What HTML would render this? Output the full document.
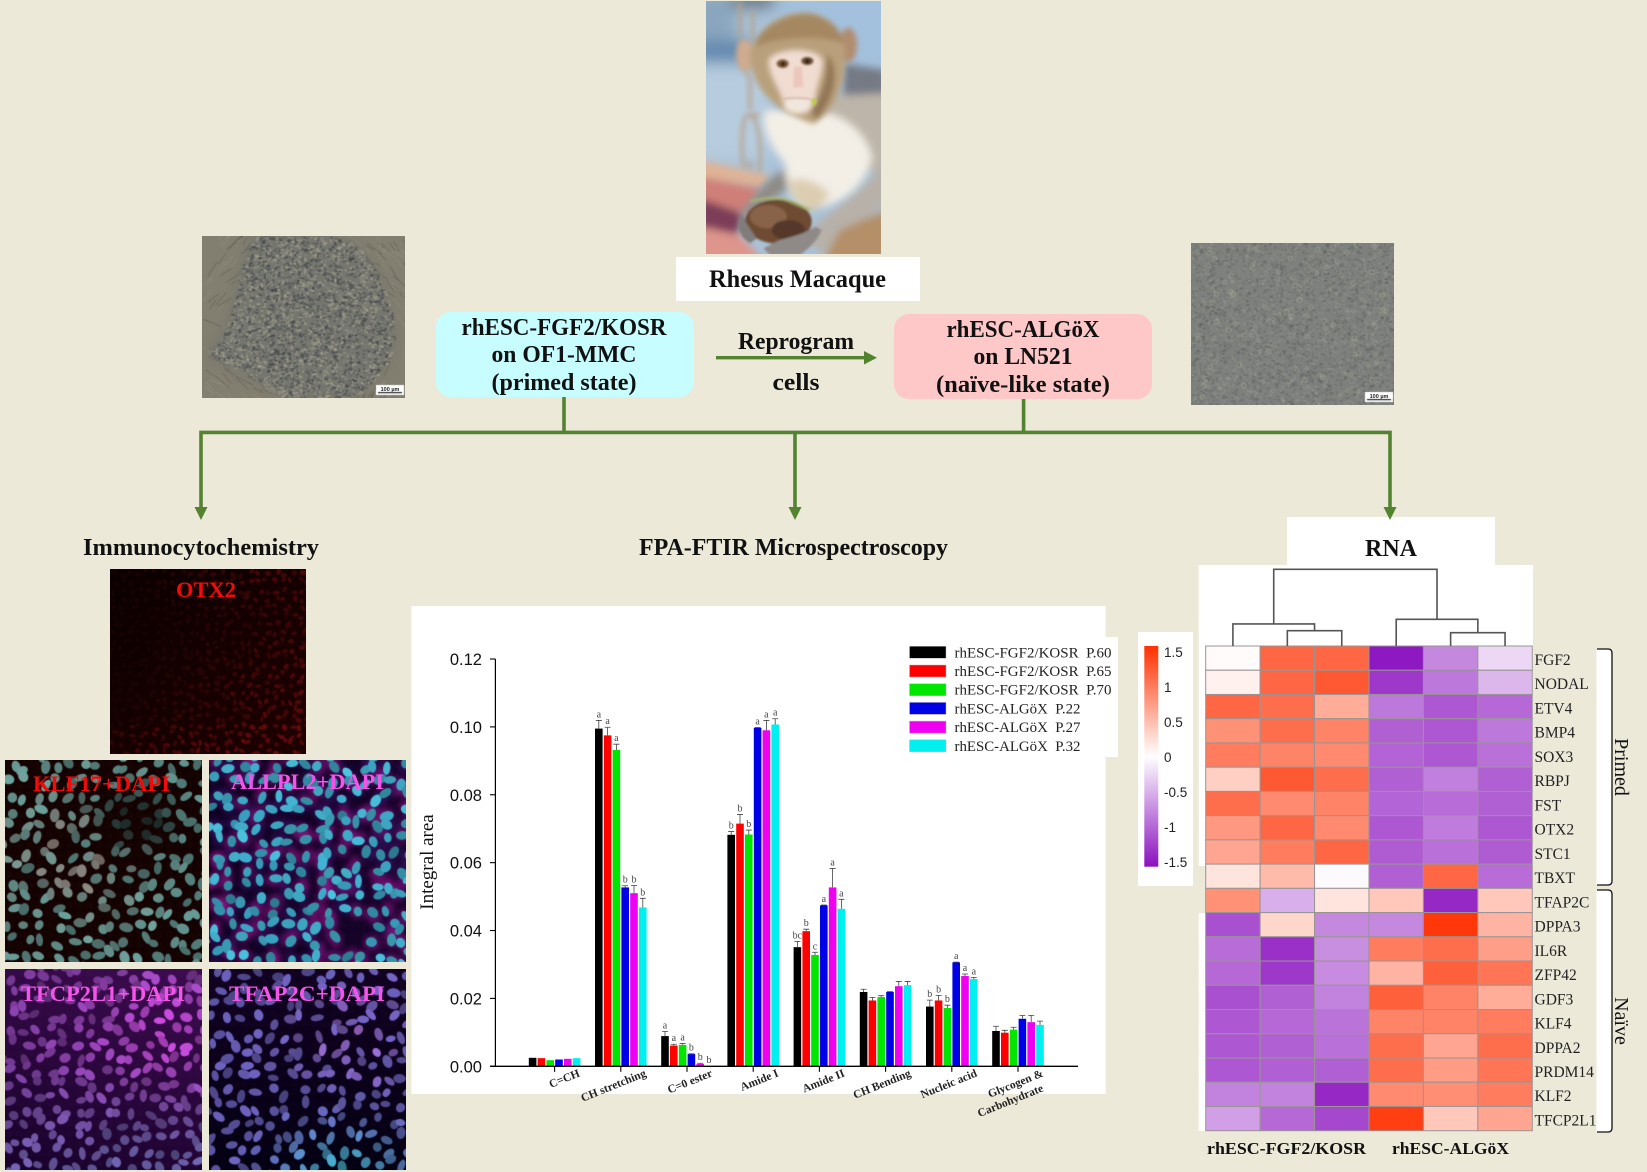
<!DOCTYPE html>
<html lang="en">
<head>
<meta charset="utf-8">
<title>Rhesus macaque ESC reprogramming overview</title>
<style>
html,body{margin:0;padding:0;background:#ece9d9;}
#stage{position:relative;width:1647px;height:1172px;overflow:hidden;background:#ece9d9;}
#stage canvas{position:absolute;display:block;}
#main{position:absolute;left:0;top:0;}
.serif{font-family:"Liberation Serif",serif;}
.sans{font-family:"Liberation Sans",sans-serif;}
</style>
</head>
<body>
<div id="stage">
<canvas id="c-left" width="203" height="162" style="left:202px;top:236px"></canvas>
<canvas id="c-right" width="203" height="162" style="left:1191px;top:243px"></canvas>
<canvas id="c-otx2" width="196" height="185" style="left:110px;top:569px"></canvas>
<canvas id="c-klf17" width="197" height="202" style="left:5px;top:760px"></canvas>
<canvas id="c-allpl2" width="197" height="202" style="left:209px;top:760px"></canvas>
<canvas id="c-tfcp" width="197" height="201" style="left:5px;top:969px"></canvas>
<canvas id="c-tfap" width="197" height="201" style="left:209px;top:969px"></canvas>

<svg id="main" width="1647" height="1172" viewBox="0 0 1647 1172" xmlns="http://www.w3.org/2000/svg">
  <defs>
    <filter id="z2" x="-20%" y="-20%" width="140%" height="140%"><feGaussianBlur stdDeviation="3"/></filter>
    <filter id="z5" x="-30%" y="-30%" width="160%" height="160%"><feGaussianBlur stdDeviation="8"/></filter>
    <filter id="z12" x="-40%" y="-40%" width="180%" height="180%"><feGaussianBlur stdDeviation="12"/></filter>
    <filter id="z24" x="-40%" y="-40%" width="180%" height="180%"><feGaussianBlur stdDeviation="24"/></filter>
    <clipPath id="photo-clip"><rect x="18" y="3" width="525" height="759"/></clipPath>
    <linearGradient id="cbar-grad" x1="0" y1="0" x2="0" y2="1">
      <stop offset="0" stop-color="#ff3000"/>
      <stop offset="0.5" stop-color="#ffffff"/>
      <stop offset="1" stop-color="#8a10bf"/>
    </linearGradient>
  </defs>

  <!-- Rhesus macaque photo, painted in 3x coordinates -->
  <g transform="translate(700 0) scale(0.33333)">
    <g clip-path="url(#photo-clip)">
      <rect x="18" y="3" width="525" height="759" fill="#a9c2d8"/>
      <g filter="url(#z24)">
        <rect x="240" y="-30" width="340" height="230" fill="#a3c1dd"/>
        <rect x="-20" y="-20" width="130" height="150" fill="#8aa6be"/>
        <rect x="-20" y="125" width="180" height="60" fill="#5c84ac"/>
        <rect x="-20" y="200" width="230" height="280" fill="#b7ccde"/>
        <rect x="95" y="-20" width="130" height="40" fill="#5c6670"/>
      </g>
      <g filter="url(#z12)">
        <path d="M0 480 L210 525 L190 560 L0 530Z" fill="#e0b394"/>
        <path d="M0 530 L185 565 L140 640 L0 600Z" fill="#cf7f78"/>
        <path d="M0 595 L130 640 L110 710 L0 680Z" fill="#7d3c58"/>
        <path d="M0 680 L120 705 L190 780 L0 780Z" fill="#dd958c"/>
      </g>
      <g stroke="#b7a28c" fill="none" stroke-width="10" filter="url(#z5)">
        <path d="M120 5 V110 M158 30 V120"/>
        <path d="M122 120 Q125 200 150 235 V330"/>
        <path d="M135 350 Q118 430 132 505 M150 340 Q190 380 178 515 M135 345 H180"/>
        <path d="M150 480 V510"/>
      </g>
      <!-- body -->
      <g filter="url(#z12)">
        <path d="M430 190 L560 210 L560 300 L430 300Z" fill="#747a85"/>
        <path d="M360 290 L560 280 L560 520 L430 500Z" fill="#bdb5a9"/>
        <path d="M280 500 C240 510 200 540 170 580 L115 650 L170 640 L230 590 L275 560Z" fill="#8e8b86"/>
        <path d="M195 330 C180 380 215 450 255 490 C258 560 270 610 320 630 C400 625 500 570 515 470 C500 400 430 340 350 335 Z" fill="#f3efe7"/>
        <path d="M268 540 C272 590 290 615 330 635 C360 625 380 600 390 580 C350 545 310 530 268 540Z" fill="#dccdb0"/>
        <path d="M560 480 C510 550 430 610 350 670 L320 730 L370 760 C430 720 500 650 560 610Z" fill="#b7b1a9"/>
        <path d="M420 690 L560 630 L560 780 L370 780Z" fill="#b48f68"/>
      </g>
      <!-- head -->
      <g filter="url(#z5)">
        <ellipse cx="135" cy="165" rx="26" ry="48" fill="#d0ac8f"/>
        <ellipse cx="445" cy="135" rx="26" ry="52" fill="#b18c6e"/>
        <path d="M150 160 C170 80 250 30 330 38 C410 55 440 110 435 180 C435 270 395 340 340 372 C280 350 215 320 175 255 C160 225 150 200 150 160Z" fill="#b9a07c"/>
        <path d="M170 120 C200 70 270 40 330 42 C390 55 425 90 430 130 C360 105 240 110 170 140Z" fill="#a58862"/>
        <path d="M380 160 C420 200 410 290 350 360 L330 330 C360 300 385 240 380 160Z" fill="#927655"/>
      </g>
      <g filter="url(#z5)">
        <path d="M205 180 C220 145 350 135 368 180 C370 220 350 250 345 300 C335 345 265 350 250 310 C240 265 205 230 205 180Z" fill="#f1dcd2"/>
        <ellipse cx="293" cy="318" rx="42" ry="24" fill="#f2e7de"/>
      </g>
      <g filter="url(#z2)">
        <path d="M282 200 L305 200 L310 262 L280 262Z" fill="#ecc7bc"/>
        <ellipse cx="248" cy="191" rx="18" ry="13" fill="#7a5a38"/>
        <ellipse cx="322" cy="183" rx="18" ry="12" fill="#6b5032"/>
        <circle cx="249" cy="192" r="7" fill="#2a1a10"/>
        <circle cx="322" cy="184" r="7" fill="#2a1a10"/>
        <path d="M250 297 Q295 290 335 298" stroke="#bd9c90" stroke-width="3" fill="none"/>
        <ellipse cx="342" cy="305" rx="7" ry="10" fill="#b6d33f"/>
      </g>
      <!-- soil ball and hands -->
      <g filter="url(#z2)">
        <ellipse cx="235" cy="665" rx="100" ry="66" fill="#6e4b30"/>
        <ellipse cx="205" cy="650" rx="55" ry="35" fill="#89644a"/>
        <ellipse cx="265" cy="690" rx="50" ry="30" fill="#55392a"/>
        <path d="M150 605 Q215 585 260 600 L330 630" stroke="#a8b76c" stroke-width="9" stroke-opacity="0.75" fill="none"/>
        <path d="M125 640 C105 670 115 710 150 730 L170 715 L140 670Z" fill="#807c7c"/>
        <path d="M345 680 C310 705 265 712 235 722 L190 745 L210 765 L300 765 C335 740 355 715 365 690Z" fill="#8f8a88"/>
      </g>
    </g>
  </g>

  <!-- White labels and boxes -->
  <g>
    <rect x="676" y="257" width="244" height="44" fill="#ffffff"/>
    <text x="709" y="287" class="serif" font-size="25" font-weight="bold" fill="#111" textLength="177" lengthAdjust="spacingAndGlyphs">Rhesus Macaque</text>
  </g>

  <g>
    <rect x="436" y="312" width="258" height="85" rx="15" fill="#c7fdff"/>
    <text x="564" y="335" text-anchor="middle" class="serif" font-size="24" font-weight="bold" fill="#111" textLength="205" lengthAdjust="spacingAndGlyphs">rhESC-FGF2/KOSR</text>
    <text x="564" y="362" text-anchor="middle" class="serif" font-size="24" font-weight="bold" fill="#111" textLength="145" lengthAdjust="spacingAndGlyphs">on OF1-MMC</text>
    <text x="564" y="390" text-anchor="middle" class="serif" font-size="24" font-weight="bold" fill="#111" textLength="145" lengthAdjust="spacingAndGlyphs">(primed state)</text>
  </g>
  <g>
    <rect x="894" y="314" width="258" height="85" rx="15" fill="#fec8c8"/>
    <text x="1023" y="337" text-anchor="middle" class="serif" font-size="24" font-weight="bold" fill="#111" textLength="153" lengthAdjust="spacingAndGlyphs">rhESC-ALGöX</text>
    <text x="1023" y="364" text-anchor="middle" class="serif" font-size="24" font-weight="bold" fill="#111" textLength="99" lengthAdjust="spacingAndGlyphs">on LN521</text>
    <text x="1023" y="392" text-anchor="middle" class="serif" font-size="24" font-weight="bold" fill="#111" textLength="174" lengthAdjust="spacingAndGlyphs">(naïve-like state)</text>
  </g>

  <!-- Flow lines -->
  <g>
    <rect x="716" y="356" width="150" height="3.4" fill="#53832f"/>
    <path d="M864 351 L877 357.7 L864 364.5Z" fill="#53832f"/>
    <text x="796" y="349" text-anchor="middle" class="serif" font-size="24" font-weight="bold" fill="#111" textLength="116" lengthAdjust="spacingAndGlyphs">Reprogram</text>
    <text x="796" y="390" text-anchor="middle" class="serif" font-size="24" font-weight="bold" fill="#111" textLength="47" lengthAdjust="spacingAndGlyphs">cells</text>
  </g>

  <rect x="1287" y="517" width="208" height="50" fill="#ffffff"/>
  <rect x="1198.7" y="565" width="334.3" height="301" fill="#ffffff"/>
  <rect x="1198.7" y="913" width="10" height="218" fill="#ffffff"/>

  <g fill="none" stroke="#53832f" stroke-width="3.6">
    <path d="M564 397 V432.4"/>
    <path d="M1023.6 399 V432.4"/>
    <path d="M201 510 V432.4 H1390 V510"/>
    <path d="M795 432.4 V510"/>
  </g>
  <g fill="#53832f">
    <path d="M194.500 507 H207.500 L201 520Z"/>
    <path d="M788.500 507 H801.500 L795 520Z"/>
    <path d="M1383.500 507 H1396.500 L1390 520Z"/>
  </g>

  <!-- Section titles -->
  <text x="83" y="555" class="serif" font-size="24" font-weight="bold" fill="#111" textLength="236" lengthAdjust="spacingAndGlyphs">Immunocytochemistry</text>
  <text x="639" y="555" class="serif" font-size="24" font-weight="bold" fill="#111" textLength="309" lengthAdjust="spacingAndGlyphs">FPA-FTIR Microspectroscopy</text>
  <text x="1391" y="556" text-anchor="middle" class="serif" font-size="24" font-weight="bold" fill="#111">RNA</text>

  <!-- Stain panel labels -->
  <text x="206" y="597" text-anchor="middle" class="serif" font-size="22" font-weight="bold" fill="#f40a0a" textLength="60" lengthAdjust="spacingAndGlyphs">OTX2</text>
  <text x="33" y="791" class="serif" font-size="22" font-weight="bold" fill="#f40a0a" textLength="137" lengthAdjust="spacingAndGlyphs">KLF17+DAPI</text>
  <text x="231" y="789" class="serif" font-size="22" font-weight="bold" fill="#f455e8" textLength="153" lengthAdjust="spacingAndGlyphs">ALLPL2+DAPI</text>
  <text x="21" y="1001" class="serif" font-size="22" font-weight="bold" fill="#f455e8" textLength="164" lengthAdjust="spacingAndGlyphs">TFCP2L1+DAPI</text>
  <text x="229" y="1001" class="serif" font-size="22" font-weight="bold" fill="#f455e8" textLength="156" lengthAdjust="spacingAndGlyphs">TFAP2C+DAPI</text>

  <text x="390" y="391" text-anchor="middle" class="sans" font-size="5.5" font-weight="bold" fill="#222">100 µm</text>
  <text x="1379" y="398" text-anchor="middle" class="sans" font-size="5.5" font-weight="bold" fill="#222">100 µm</text>

  <!-- Chart -->
  <g id="chart">
    <rect x="411.400" y="606" width="694.200" height="488" fill="#ffffff"/>
    <rect x="905" y="637" width="213" height="120" fill="#ffffff"/>
  </g>

  <!-- Heatmap -->
  <g id="heat"></g>
</svg>
</div>

<script>
/* ---------- Bar chart data ---------- */
const categories = ["C=CH", "CH stretching", "C=0 ester", "Amide I", "Amide II", "CH Bending", "Nucleic acid", "Glycogen &|Carbohydrate"];
const seriesNames = ["rhESC-FGF2/KOSR\u00a0\u00a0P.60", "rhESC-FGF2/KOSR\u00a0\u00a0P.65", "rhESC-FGF2/KOSR\u00a0\u00a0P.70", "rhESC-ALGöX\u00a0\u00a0P.22", "rhESC-ALGöX\u00a0\u00a0P.27", "rhESC-ALGöX\u00a0\u00a0P.32"];
const seriesColors = ["#000000", "#ff0000", "#00e600", "#0000e6", "#f000f0", "#00f0f0"];
const valuesP60 = [0.0025, 0.0995, 0.0089, 0.0682, 0.0351, 0.0219, 0.0176, 0.0104];
const valuesP65 = [0.0024, 0.0975, 0.0061, 0.0715, 0.0398, 0.0194, 0.0194, 0.0099];
const valuesP70 = [0.0018, 0.0932, 0.0063, 0.0683, 0.0328, 0.0204, 0.0172, 0.0108];
const valuesA22 = [0.0020, 0.0527, 0.0036, 0.0997, 0.0474, 0.0219, 0.0306, 0.0140];
const valuesA27 = [0.0022, 0.0510, 0.0007, 0.0990, 0.0527, 0.0236, 0.0266, 0.0130];
const valuesA32 = [0.0024, 0.0468, 0.0001, 0.1007, 0.0464, 0.0239, 0.0257, 0.0122];
const errorsP60 = [0, 0.0024, 0.0014, 0.0010, 0.0017, 0.0008, 0.0019, 0.0014];
const errorsP65 = [0, 0.0024, 0.0004, 0.0027, 0.0006, 0.0009, 0.0015, 0.0007];
const errorsP70 = [0, 0.0017, 0.0004, 0.0013, 0.0008, 0.0004, 0.0008, 0.0007];
const errorsA22 = [0, 0.0005, 0.0001, 0.0001, 0.0001, 0.0001, 0.0001, 0.0010];
const errorsA27 = [0, 0.0023, 0.0002, 0.0029, 0.0056, 0.0014, 0.0006, 0.0020];
const errorsA32 = [0, 0.0027, 0, 0.0017, 0.0028, 0.0011, 0.0005, 0.0011];
const lettersP60 = ["", "a", "a", "b", "bc", "", "b", ""];
const lettersP65 = ["", "a", "a", "b", "b", "", "b", ""];
const lettersP70 = ["", "a", "a", "b", "c", "", "b", ""];
const lettersA22 = ["", "b", "b", "a", "a", "", "a", ""];
const lettersA27 = ["", "b", "b", "a", "a", "", "a", ""];
const lettersA32 = ["", "b", "b", "a", "a", "", "a", ""];
const yTickValues = [0, 0.02, 0.04, 0.06, 0.08, 0.10, 0.12];
const seriesValues = [valuesP60, valuesP65, valuesP70, valuesA22, valuesA27, valuesA32];
const seriesErrors = [errorsP60, errorsP65, errorsP70, errorsA22, errorsA27, errorsA32];
const seriesLetters = [lettersP60, lettersP65, lettersP70, lettersA22, lettersA27, lettersA32];

/* ---------- Heatmap data ---------- */
const genes = ["FGF2","NODAL","ETV4","BMP4","SOX3","RBPJ","FST","OTX2","STC1","TBXT","TFAP2C","DPPA3","IL6R","ZFP42","GDF3","KLF4","DPPA2","PRDM14","KLF2","TFCP2L1"];
const heatValues = [
  [0.03, 1.10, 1.10, -1.45, -0.75, -0.25],
  [0.10, 1.10, 1.20, -1.25, -0.85, -0.45],
  [1.10, 1.05, 0.60, -0.85, -1.05, -0.95],
  [0.80, 1.05, 0.90, -1.00, -1.05, -0.85],
  [0.95, 0.90, 0.85, -0.98, -1.05, -0.90],
  [0.35, 1.20, 1.05, -1.00, -0.80, -1.00],
  [1.05, 0.85, 0.90, -0.97, -0.92, -1.00],
  [0.75, 1.10, 0.85, -1.05, -0.82, -1.05],
  [0.65, 0.95, 1.10, -1.02, -0.90, -1.02],
  [0.20, 0.50, -0.03, -1.00, 1.10, -0.92],
  [0.80, -0.50, 0.20, 0.40, -1.35, 0.40],
  [-1.10, 0.30, -0.75, -0.75, 1.45, 0.55],
  [-0.92, -1.30, -0.70, 0.95, 1.05, 0.70],
  [-0.95, -1.25, -0.72, 0.55, 1.15, 1.00],
  [-1.10, -1.00, -0.78, 1.15, 0.90, 0.60],
  [-1.05, -0.95, -0.88, 0.90, 0.90, 0.95],
  [-1.05, -1.00, -0.90, 1.05, 0.65, 1.05],
  [-1.05, -1.00, -1.00, 1.05, 0.72, 1.00],
  [-0.78, -0.78, -1.35, 0.85, 0.82, 0.95],
  [-0.60, -0.95, -1.15, 1.40, 0.40, 0.65]
];
const colorbarTicks = [1.5, 1, 0.5, 0, -0.5, -1, -1.5];
const dendroLeftHeights = [0.20, 0.287];
const dendroRightHeights = [0.173, 0.348];

const NS = "http://www.w3.org/2000/svg";
function mk(parent, tag, geom, txt) {
  const el = document.createElementNS(NS, tag);
  for (const k in geom) el.setAttribute(k, geom[k]);
  if (txt !== undefined) el.textContent = txt;
  parent.appendChild(el);
  return el;
}

/* ---------- Chart axes ---------- */
const chart = document.getElementById("chart");
const yZero = 1066.3, yTop = 659, yMax = 0.12;
const yOf = v => yZero - (v / yMax) * (yZero - yTop);
const groupStart = 554.6, groupStep = 66.2, barPitch = 8.8, barWidth = 7.6;
const groupX = g => groupStart + g * groupStep;
const barX = (g, s) => groupX(g) + (s - seriesValues.length / 2) * barPitch + (barPitch - barWidth) / 2;

for (let s = 0; s < seriesValues.length; s++) {
  for (let g = 0; g < categories.length; g++) {
    const v = seriesValues[s][g], e = seriesErrors[s][g], x = barX(g, s), cx = x + barWidth / 2;
    const bar = mk(chart, "rect", {x: x, y: yOf(v), width: barWidth, height: yOf(0) - yOf(v), fill: seriesColors[s]});
    
    
    if (e > 0) {
      const err = mk(chart, "path", {d: "M" + cx + " " + yOf(v) + "V" + yOf(v + e) + "M" + (cx - 3) + " " + yOf(v + e) + "H" + (cx + 3), stroke: "#444", "stroke-width": 0.8, fill: "none"});
      
      
    }
    const letter = seriesLetters[s][g];
    if (letter) {
      const t = mk(chart, "text", {x: cx, y: yOf(v + e) - 3, "text-anchor": "middle", "font-size": 10, fill: "#444", "font-family": '"Liberation Serif",serif'}, letter);
      
      
    }
  }
}

const yAxis = mk(chart, "path", {d: "M495.4 " + yOf(yMax) + "V" + yOf(0), stroke: "#000", "stroke-width": 1.2, fill: "none"});


const xAxis = mk(chart, "path", {d: "M490 " + yOf(0) + "H1078", stroke: "#000", "stroke-width": 1.4, fill: "none"});



yTickValues.forEach(v => {
  const tk = mk(chart, "path", {d: "M490 " + yOf(v) + "H495.4", stroke: "#000", "stroke-width": 1.1});
  
  
  const lb = mk(chart, "text", {x: 482, y: yOf(v) + 6, "text-anchor": "end", "font-size": 16.5, fill: "#111", "font-family": '"Liberation Sans",sans-serif'}, v.toFixed(2));
  
  
});

categories.forEach((c, g) => {
  const x = groupX(g);
  const tk = mk(chart, "path", {d: "M" + x + " " + yOf(0) + "V" + (yOf(0) + 5.5), stroke: "#000", "stroke-width": 1.1});
  
  
  c.split("|").forEach((line, i) => {
    const ex = x + 26, ey = 1076 + i * 15;
    const lb = mk(chart, "text", {x: ex, y: ey, "text-anchor": "end", "font-size": 11.5, "font-weight": "bold", fill: "#222", "font-family": '"Liberation Serif",serif', transform: "rotate(-22 " + ex + " " + ey + ")"}, line);
    
    
  });
});

const yTitle = mk(chart, "text", {x: 433, y: 862, "text-anchor": "middle", "font-size": 19, fill: "#111", "font-family": '"Liberation Serif",serif', transform: "rotate(-90 433 862)"}, "Integral area");



seriesNames.forEach((n, i) => {
  const y = 652.3 + i * 18.7;
  const sw = mk(chart, "rect", {x: 909.5, y: y - 6, width: 36.5, height: 12, fill: seriesColors[i], stroke: "#bbb", "stroke-width": 0.5});
  
  
  const geom = {x: 954.5, y: y + 5, "font-size": 15, fill: "#222", "font-family": '"Liberation Serif",serif', textLength: i < 3 ? 157 : 126, lengthAdjust: "spacingAndGlyphs"};
  const t = mk(chart, "text", geom, n);
  
  
});

/* ---------- Heatmap ---------- */
const heat = document.getElementById("heat");
const colX = c => 1205.7 + c * 54.43;
const rowY = r => 646 + r * 24.235;
function heatColor(v) {
  const t = Math.min(1, Math.abs(v) / 1.5);
  const end = v >= 0 ? [255, 48, 0] : [138, 16, 191];
  return "rgb(" + end.map(e => Math.round(255 + (e - 255) * t)).join(",") + ")";
}
heatValues.forEach((row, r) => {
  row.forEach((v, c) => {
    const cell = mk(heat, "rect", {x: colX(c), y: rowY(r), width: 54.43, height: 24.235, fill: heatColor(v), stroke: "#9a9494", "stroke-width": 1});
    
    
  });
  const lb = mk(heat, "text", {x: 1534.5, y: rowY(r) + 19, "font-size": 15.5, fill: "#222", "font-family": '"Liberation Serif",serif'}, genes[r]);
  
  
});

/* dendrogram: heights are fractions of the tree depth measured from the heatmap top */
const dBase = 646, dDepth = 76.7;
const dY = h => dBase - h * dDepth;
const cc = c => colX(c) + 27.2;
function clusterPath(cols, hs) {
  const inner = (cc(cols[1]) + cc(cols[2])) / 2;
  const d = "M" + cc(cols[1]) + " " + dBase + "V" + dY(hs[0]) + "H" + cc(cols[2]) + "V" + dBase +
    "M" + cc(cols[0]) + " " + dBase + "V" + dY(hs[1]) + "H" + inner + "V" + dY(hs[0]);
  return {d: d, mid: (cc(cols[0]) + inner) / 2, top: dY(hs[1])};
}
const leftTree = clusterPath([0, 1, 2], dendroLeftHeights);
const rightTree = clusterPath([3, 4, 5], dendroRightHeights);
const rootY = 569.3;
const dendro = mk(heat, "path", {d: leftTree.d + rightTree.d + "M" + leftTree.mid + " " + leftTree.top + "V" + rootY + "H" + rightTree.mid + "V" + rightTree.top, fill: "none", stroke: "#555", "stroke-width": 1.6});



/* colorbar */
const cbBg = mk(heat, "rect", {x: 1138, y: 632, width: 55, height: 254, fill: "#fff"});


const cbBar = mk(heat, "rect", {x: 1144.3, y: 646, width: 14, height: 220.7, fill: "url(#cbar-grad)"});


const cbY = v => 757 - v * 70;
colorbarTicks.forEach(v => {
  const t = mk(heat, "text", {x: 1164, y: cbY(v) + 5, "font-size": 13.5, fill: "#222", "font-family": '"Liberation Sans",sans-serif'}, String(v));
  
  
});

/* group brackets */
[["primed", 649, 885, "Primed", 767], ["naive", 890, 1132, "Naïve", 1021]].forEach(b => {
  const bg = mk(heat, "rect", {x: 1596.5, y: b[1], width: 15.5, height: b[2] - b[1], fill: "#fff"});
  
  
  const br = mk(heat, "path", {d: "M1597 " + b[1] + "H1608q4 0 4 4V" + (b[2] - 4) + "q0 4 -4 4H1597", fill: "none", stroke: "#111", "stroke-width": 1.3});
  
  
  const t = mk(heat, "text", {x: 1615, y: b[4], "text-anchor": "middle", "font-size": 20, fill: "#111", "font-family": '"Liberation Serif",serif', transform: "rotate(90 1615 " + b[4] + ")"}, b[3]);
  
  
});

const sg1 = mk(heat, "text", {x: 1207, y: 1154, "font-size": 17, "font-weight": "bold", fill: "#111", "font-family": '"Liberation Serif",serif', textLength: 159, lengthAdjust: "spacingAndGlyphs"}, "rhESC-FGF2/KOSR");


const sg2 = mk(heat, "text", {x: 1392, y: 1154, "font-size": 17, "font-weight": "bold", fill: "#111", "font-family": '"Liberation Serif",serif', textLength: 117, lengthAdjust: "spacingAndGlyphs"}, "rhESC-ALGöX");



/* ---------- Painted micrograph textures (decorative imagery, not data) ---------- */
function rng(seed) { let s = seed >>> 0; return () => { s = (s * 1664525 + 1013904223) >>> 0; return s / 4294967296; }; }
function rgb(c) { return "rgb(" + c.map(x => Math.max(0, Math.min(255, Math.round(x)))).join(",") + ")"; }
function mix(a, b, t) { return a.map((x, i) => x + (b[i] - x) * t); }
function dim(c, k) { return c.map(x => x * k); }

function nuclei(id, seed, spacing, rx, ry, bgFn, colFn) {
  const cv = document.getElementById(id), g = cv.getContext("2d"), W = cv.width, H = cv.height, R = rng(seed);
  const cell = 10;
  g.filter = "none";
  g.fillStyle = rgb(bgFn(0.5, 0.5));
  g.fillRect(0, 0, W, H);
  g.filter = "blur(5px)";
  for (let y = -cell; y < H + cell; y += cell) for (let x = -cell; x < W + cell; x += cell) {
    g.fillStyle = rgb(bgFn(x / W, y / H));
    g.fillRect(x - 2, y - 2, cell + 4, cell + 4);
  }
  const items = [];
  for (let y = -spacing / 2; y < H + spacing; y += spacing) for (let x = -spacing / 2; x < W + spacing; x += spacing) {
    const px = x + (R() - 0.5) * spacing * 0.75, py = y + (R() - 0.5) * spacing * 0.75;
    const c = colFn(px / W, py / H, R);
    if (c) items.push({x: px, y: py, a: R() * Math.PI, rx: rx * (0.8 + R() * 0.4), ry: ry * (0.8 + R() * 0.4), c: c});
  }
  g.filter = "blur(3px)";
  items.forEach(n => {
    if (!n.c.halo) return;
    g.fillStyle = n.c.halo;
    g.beginPath();
    g.ellipse(n.x + (R() - .5) * 6, n.y + (R() - .5) * 6, n.rx * 1.5, n.ry * 1.5, n.a, 0, 7);
    g.fill();
  });
  g.filter = "blur(0.7px)";
  items.forEach(n => {
    g.fillStyle = rgb(n.c.col);
    g.beginPath();
    g.ellipse(n.x, n.y, n.rx, n.ry, n.a, 0, 7);
    g.fill();
  });
  g.filter = "none";
}

nuclei("c-otx2", 11, 8.5, 3, 2.1,
  (u, v) => mix([14, 2, 3], [36, 3, 4], Math.min(1, u * 0.5 + v * 0.5)),
  (u, v, R) => {
    const t = Math.max(0, Math.min(1, u * 0.7 + Math.abs(v - 0.3) * 0.5 - 0.2 + (v > 0.85 ? 0.2 : 0)));
    return {col: mix([22, 3, 4], [120, 12, 12], t * (0.5 + R() * 0.5))};
  });

nuclei("c-klf17", 23, 14.5, 6, 4.2,
  (u, v) => [24, 7, 6],
  (u, v, R) => {
    const dark = Math.exp(-(((u - .68) / .2) ** 2 + ((v - .3) / .17) ** 2));
    const pink = Math.exp(-(((u - .35) / .33) ** 2 + ((v - .5) / .3) ** 2));
    const base = mix([100, 150, 145], [150, 118, 112], pink * R());
    return {col: dim(base, (1 - 0.78 * dark) * (0.7 + R() * 0.4))};
  });

nuclei("c-allpl2", 37, 14.5, 6, 4.3,
  (u, v) => mix([16, 6, 34], [28, 8, 46], u),
  (u, v, R) => {
    const dark = Math.exp(-(((u - .73) / .13) ** 2 + ((v - .85) / .12) ** 2));
    if (dark > 0.6) return null;
    return {col: dim(mix([55, 155, 185], [70, 185, 210], R()), 0.75 + R() * 0.35),
            halo: R() > 0.6 ? "rgba(190,30,170,0.5)" : "rgba(70,25,120,0.5)"};
  });

nuclei("c-tfcp", 51, 13.5, 5.6, 4,
  (u, v) => mix([66, 16, 84], [26, 6, 44], Math.min(1, v * 0.75 + (1 - u) * 0.25)),
  (u, v, R) => {
    const hot = Math.exp(-(((u - .8) / .33) ** 2 + ((v - .32) / .33) ** 2));
    const low = Math.min(1, Math.max(0, v - 0.45) * 1.7 + (u > .5 ? .2 : 0));
    const base = mix(mix([135, 65, 170], [205, 75, 225], hot), [110, 100, 175], low * (1 - hot));
    return {col: dim(base, 0.65 + R() * 0.4)};
  });

nuclei("c-tfap", 67, 14.5, 5.8, 4,
  (u, v) => mix([22, 6, 38], [8, 4, 22], v),
  (u, v, R) => {
    const cy = Math.exp(-(((u - .68) / .3) ** 2 + ((v - 1) / .2) ** 2));
    const pk = Math.exp(-(((u - .72) / .3) ** 2 + ((v - .35) / .25) ** 2));
    let base = mix([105, 95, 185], [180, 115, 225], pk * R());
    base = mix(base, [70, 180, 210], cy);
    return {col: dim(base, 0.65 + R() * 0.4)};
  });

function colonyShape(g) {
  g.beginPath();
  g.moveTo(53, -2);
  g.bezierCurveTo(100, -6, 135, 0, 150, 7);
  g.bezierCurveTo(170, 20, 183, 50, 190, 77);
  g.bezierCurveTo(196, 100, 192, 120, 180, 133);
  g.bezierCurveTo(172, 145, 162, 152, 150, 164);
  g.lineTo(83, 164);
  g.bezierCurveTo(70, 150, 35, 135, 6, 118);
  g.bezierCurveTo(15, 105, 24, 95, 26, 87);
  g.bezierCurveTo(30, 70, 34, 60, 36, 47);
  g.bezierCurveTo(38, 30, 46, 15, 53, -2);
  g.closePath();
}

function grayPanel(id, seed, colony) {
  const cv = document.getElementById(id), g = cv.getContext("2d"), W = cv.width, H = cv.height, R = rng(seed);
  g.fillStyle = colony ? "#827e70" : "#7e807d";
  g.fillRect(0, 0, W, H);
  g.filter = "blur(0.6px)";
  if (colony) {
    for (let i = 0; i < 420; i++) {
      const x = R() * W, y = R() * H, a = (x < W / 2 ? -1 : 1) * (0.5 + R() * 0.6) + (y > H / 2 ? 1.4 : 0), l = 6 + R() * 14;
      g.strokeStyle = R() > 0.5 ? "rgba(165,165,150,.4)" : "rgba(75,72,62,.45)";
      g.lineWidth = 0.9;
      g.beginPath(); g.moveTo(x, y); g.lineTo(x + Math.cos(a) * l, y + Math.sin(a) * l); g.stroke();
    }
    g.filter = "blur(4px)";
    g.fillStyle = "#75766f";
    colonyShape(g);
    g.fill();
    g.filter = "blur(0.6px)";
    colonyShape(g);
    for (let i = 0; i < 5200; i++) {
      const x = R() * W, y = R() * H;
      if (!g.isPointInPath(x, y)) continue;
      g.fillStyle = R() > 0.5 ? "rgba(172,168,148,.5)" : "rgba(60,64,72,.5)";
      g.fillRect(x, y, 1 + R() * 2.4, 1 + R() * 1.6);
    }
  } else {
    for (let i = 0; i < 4200; i++) {
      const x = R() * W, y = R() * H;
      g.fillStyle = R() > 0.5 ? "rgba(152,156,150,.38)" : "rgba(86,90,88,.38)";
      g.fillRect(x, y, 1 + R() * 2, 1 + R() * 1.4);
    }
    for (let i = 0; i < 150; i++) {
      g.strokeStyle = "rgba(175,180,155,.55)"; g.lineWidth = 0.8;
      g.beginPath(); g.arc(R() * W, R() * H, 1.2 + R() * 1.4, 0, 7); g.stroke();
    }
  }
  g.filter = "none";
  g.fillStyle = "#fff";
  g.fillRect(W - 29, H - 13, 28, 10);
  g.fillStyle = "#222";
  g.fillRect(W - 27, H - 6, 24, 1.2);
}
grayPanel("c-left", 91, true);
grayPanel("c-right", 103, false);
</script>
</body>
</html>
